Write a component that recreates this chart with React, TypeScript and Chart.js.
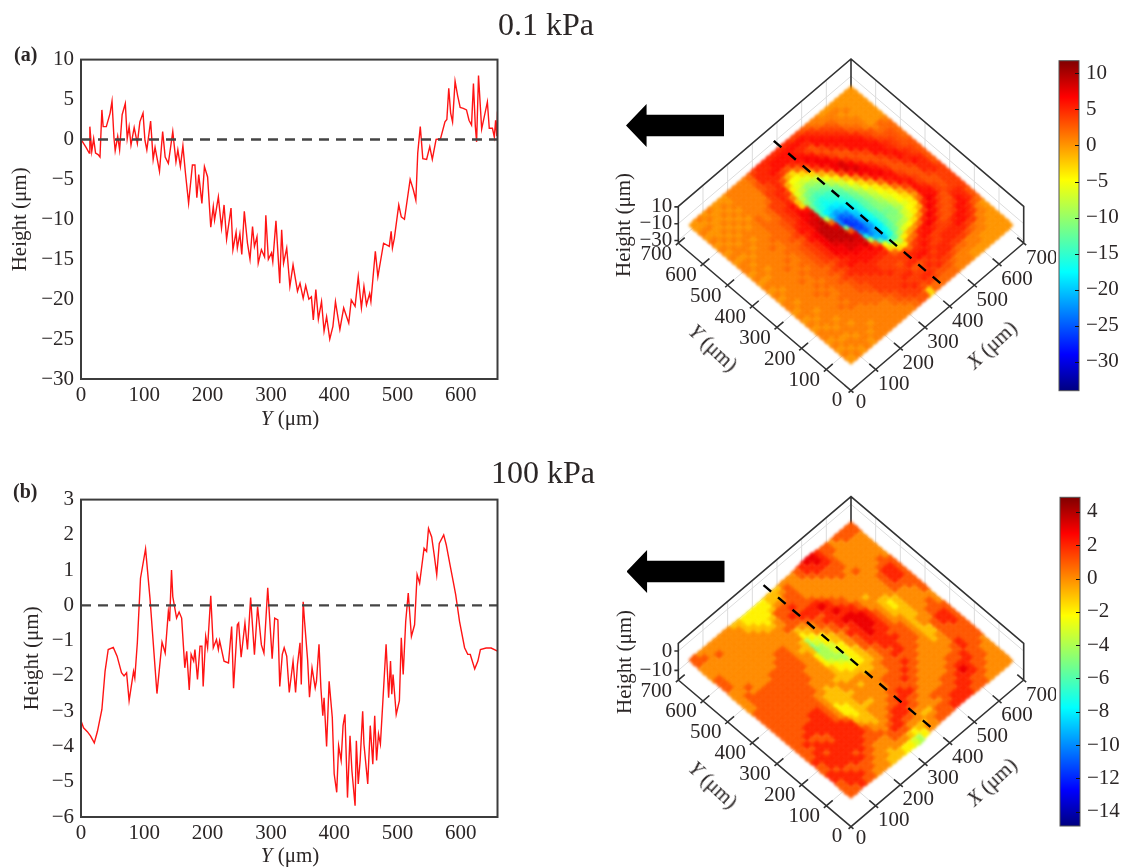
import React, { useEffect, useRef } from "react";
import { Chart, registerables } from "chart.js";

Chart.register(...registerables);

const SERIF = "'Liberation Serif', 'Times New Roman', serif";
const INK = "#2b2626";

const profileAY = [0,4,8,13,14,17,20,23,27,30,33,35,40,46,49,52,54,58,61,65,70,73,76,79,84,89,93,98,101,104,110,114,117,124,129,133,138,145,150,153,157,161,165,170,176,180,183,186,191,195,200,205,209,211,217,222,226,230,237,240,245,247,251,254,258,263,267,271,274,278,280,285,290,292,296,301,303,308,314,317,320,325,330,335,342,346,351,355,360,364,367,371,375,380,384,388,393,398,402,409,415,423,427,433,438,443,447,451,456,458,465,469,478,487,490,492,495,502,506,511,520,525,529,532,536,540,546,551,555,561,568,575,578,581,584,587,591,595,599,604,609,613,617,620,623,625,628,633,642,645,650,653,655,657,658];
const profileAH = [0,-0.5,-1,-1.7,1.6,-1.5,0.1,-1.7,-1.9,-2.2,3.7,1.6,1.6,3.3,4.8,0.3,-1.4,0.4,-1.3,3.1,4.5,0.1,1.6,-0.7,1.5,-0.5,2.2,3.3,-0.1,-1.3,2.3,-2.5,-1,-4,1,-2.2,-3,1,-2.8,-1.3,-3.4,-0.8,-4.2,-8,-3.2,-3.2,-7.3,-4.4,-8,-3.4,-4.7,-11,-8.4,-10.1,-7.2,-11.1,-8.2,-12.5,-8.6,-13.8,-11.6,-13.6,-11.8,-14.4,-9,-13,-15,-10.9,-13.4,-12.2,-15.5,-13.8,-14.7,-9.5,-15,-14.2,-15.3,-10.2,-18,-11.3,-15.5,-13.6,-18.4,-15.7,-19,-18,-19.9,-18.3,-20,-19.7,-22.6,-18.8,-22.5,-20.3,-24,-22.2,-25,-23.4,-20.3,-23.8,-21.1,-23,-20.1,-20.9,-17.2,-21.1,-18.4,-20.7,-19.3,-20.3,-14,-17.2,-13,-13.4,-11.5,-13.6,-12.4,-8.2,-9.7,-10,-5,-6.3,-7.6,-1.7,1.6,-2.4,-2.5,-0.9,-2.5,0,0.1,2.2,2.5,6.4,3.3,2.2,7.3,5.5,4,3.9,3.7,2.4,1.8,7,1.6,-0.3,8,1.3,4.7,1.4,1.4,0.3,2.4,0.4,3.5];
const profileBY = [0,4,10,15,21,26,33,38,43,51,57,64,68,72,76,83,85,89,94,102,109,120,128,133,138,140,143,145,151,155,159,164,167,171,174,178,180,184,188,191,193,197,200,205,209,214,217,219,226,233,238,241,247,249,253,259,263,268,274,279,285,289,295,302,306,311,314,318,321,325,329,335,339,342,346,348,351,353,358,361,365,370,372,376,379,382,384,388,392,397,400,404,407,411,414,417,421,425,428,433,435,438,441,445,447,453,457,461,464,467,470,473,476,482,486,489,491,493,498,503,506,509,513,517,522,527,531,535,542,546,549,554,558,562,566,573,577,583,588,592,598,606,611,615,622,627,631,640,648,658];
const profileBH = [-3.27,-3.47,-3.58,-3.7,-3.9,-3.57,-2.95,-1.87,-1.25,-1.19,-1.44,-1.91,-2,-1.91,-2.7,-1.87,-2.06,-1.06,0.77,1.6,0.2,-2.5,-1.04,-1.35,-0.17,-0.45,1,0.25,-0.36,-0.19,-0.36,-1.77,-1.3,-2.4,-1.39,-1.58,-1.25,-2.1,-1.16,-1.16,-2.3,-0.88,-1.2,0.27,-1.2,-0.97,-1.25,-1,-1.58,-1.63,-0.6,-2.35,-0.55,-0.5,-1.47,-0.5,-1.25,0.22,-1.4,-0.03,-1.12,-1.35,0.5,-1.51,-0.36,-0.41,-2.3,-1.39,-1.2,-1.44,-2.47,-1.58,-2.47,-1.67,-1.06,-2.24,0.1,-0.41,-1.54,-2.6,-1.77,-2.34,-2.15,-1.1,-2.34,-3.13,-2.62,-4,-2.15,-3.18,-4.78,-5.3,-3.98,-4.4,-3.41,-3.09,-5.45,-3.7,-4.69,-5.68,-3.84,-5.06,-4.4,-3,-3.93,-5.06,-3.41,-4.5,-3.13,-4.4,-3.65,-3.93,-3,-1.1,-2.62,-1.58,-2.52,-1.96,-3.09,-2.7,-0.92,-1.96,-0.45,0.35,-0.88,-0.55,0.87,0.63,1.62,1.53,2.18,1.94,1.43,0.87,1.76,2,1.72,1.15,0.68,0.3,-0.45,-1.2,-1.39,-1.39,-1.8,-1.58,-1.25,-1.21,-1.21,-1.3];

// Height (um); rows are X, columns are Y.
const surfaceA = [
[0,1,0,1,0,1,1,0,1,0,1,0,1,1,0,1,0,1,0,1,0,1,1,0,1,0,1,0,1,0,1,0,0],
[1,0,1,0,1,1,0,1,0,1,1,1,0,1,1,0,1,1,0,1,1,0,1,0,1,1,0,1,0,0,1,0,1],
[0,1,1,0,1,0,1,1,1,0,1,1,1,1,1,1,1,1,1,0,1,1,0,1,1,0,1,0,1,0,0,1,0],
[1,1,0,1,1,1,0,1,1,1,1,1,1,1,1,1,1,1,1,1,1,1,1,0,1,1,0,1,0,1,0,0,1],
[0,1,1,1,0,1,1,1,1,1,1,2,1,1,2,1,1,2,1,1,1,1,1,1,0,1,1,0,1,0,1,0,0],
[1,0,1,1,1,1,1,2,1,1,2,1,2,1,1,2,1,1,2,1,1,2,1,1,1,1,0,1,0,1,0,1,0],
[1,1,0,1,1,1,2,1,2,1,1,2,1,2,2,1,2,1,1,2,1,1,2,1,1,1,1,0,1,0,1,0,0],
[1,1,1,1,1,1,2,2,2,2,2,2,2,2,2,2,2,2,2,2,2,2,2,2,2,2,2,1,1,1,1,1,1],
[1,1,1,1,1,2,2,2,2,2,3,2,3,2,3,3,3,3,3,2,3,2,2,2,2,1,1,1,1,1,1,1,1],
[1,1,1,1,2,2,2,3,3,3,4,3,4,3,4,4,4,4,4,3,4,3,3,3,2,2,2,1,1,1,1,1,1],
[1,1,1,1,2,2,3,3,4,4,5,4,5,4,5,5,5,5,6,5,6,5,4,4,4,4,4,2,1,1,1,1,1],
[1,1,2,2,3,4,4,4,4,5,5,6,5,6,7,7,7,7,7,6,6,6,5,5,5,4,4,4,4,3,3,2,2],
[1,2,3,3,4,4,4,4,5,5,5,6,6,7,7,8,9,9,9,8,8,7,7,6,6,5,5,5,4,4,5,5,4],
[2,3,4,4,4,4,4,5,5,5,6,6,7,8,8,9,9,9,9,9,8,8,6,-3,-2,1,4,5,5,5,5,5,5],
[3,4,4,5,4,4,5,4,4,5,6,6,7,8,9,9,9,8,2,-8,-14,-13,-12,-10,-8,-6,-4,-1,3,5,6,5,5],
[3,4,5,4,5,4,4,4,4,5,6,7,8,8,8,3,-12,-22,-22,-20,-18,-16,-15,-13,-11,-8,-6,-5,-1,4,6,6,5],
[-3,3,4,4,5,4,3,4,4,5,6,2,-8,-16,-22,-25,-27,-27,-25,-22,-19,-17,-16,-14,-12,-10,-7,-5,-3,3,6,6,5],
[2,4,5,4,3,5,4,4,2,-3,-5,-14,-20,-23,-25,-26,-26,-25,-23,-20,-18,-16,-15,-13,-11,-9,-6,-3,2,5,6,6,5],
[2,4,5,4,3,5,5,4,-3,-6,-14,-20,-21,-21,-22,-22,-21,-20,-19,-18,-16,-15,-14,-12,-10,-7,-3,2,5,6,6,6,5],
[2,3,4,5,4,6,5,2,-4,-8,-13,-16,-17,-18,-18,-17,-17,-16,-16,-15,-14,-13,-11,-8,-5,-1,4,6,7,6,5,6,5],
[2,3,5,4,5,6,5,4,1,-4,-9,-12,-13,-14,-14,-14,-13,-13,-13,-12,-11,-9,-7,-4,0,5,7,7,6,4,5,6,4],
[2,3,4,5,4,5,6,5,2,-1,-6,-9,-11,-11,-12,-11,-11,-11,-10,-9,-7,-5,-2,4,7,7,7,5,3,3,5,6,4],
[1,2,4,5,5,4,5,6,5,0,-5,-8,-10,-11,-11,-10,-9,-8,-7,-5,-3,1,6,8,8,6,4,3,4,6,6,5,3],
[1,1,3,5,5,4,4,6,6,2,-3,-6,-7,-9,-8,-7,-6,-5,-4,-1,4,7,8,7,5,3,3,5,6,6,5,4,2],
[1,1,2,4,5,5,4,5,7,5,0,-4,-5,-6,-5,-5,-4,-2,2,6,7,7,6,4,3,3,5,6,6,5,4,2,1],
[0,1,2,4,5,5,4,4,6,7,4,-1,-4,-4,-3,-1,2,5,6,7,6,5,3,3,4,6,6,6,5,4,3,1,1],
[0,1,1,4,5,5,4,3,4,6,7,5,2,0,2,4,6,6,6,5,4,3,3,4,6,6,6,5,4,3,2,1,0],
[0,1,1,3,5,6,5,3,3,4,6,7,6,6,6,6,5,4,3,3,3,4,6,6,6,6,5,3,2,1,1,1,0],
[0,0,1,2,4,6,6,4,3,3,4,6,6,5,4,4,3,3,3,4,5,6,6,6,5,4,3,2,1,1,0,1,0],
[0,0,1,1,4,5,6,6,4,3,3,4,4,3,3,3,3,4,5,6,6,5,5,4,3,3,1,1,1,0,1,0,0],
[0,0,0,1,1,4,5,6,6,5,4,3,3,3,4,5,5,6,5,5,4,4,4,3,2,1,0,0,0,0,0,0,0],
[0,0,0,0,1,1,3,5,5,5,4,4,4,4,5,5,5,5,4,4,3,3,3,3,2,2,0,0,0,0,0,0,0],
[0,0,0,0,0,0,2,3,3,4,4,4,4,4,4,3,3,3,3,3,3,2,2,2,2,1,0,0,0,0,0,0,0],
];
const surfaceB = [
[1,1,1,2,2,1,1,2,1,1,1,1,1,1,1,1,1,1,1,1,0,0,0,0,0,1,1,1,0,0,0,1,1],
[1,2,2,2,1,2,2,2,2,1,2,1,1,1,1,1,1,1,1,1,1,1,1,0,0,0,0,0,0,0,0,1,0],
[2,2,2,1,2,2,2,1,2,2,1,2,1,1,1,1,1,1,1,1,1,1,0,1,0,0,0,0,0,0,0,0,0],
[1,2,1,1,2,2,2,2,2,1,1,2,2,1,1,1,1,1,1,1,1,1,0,0,0,0,0,0,0,0,1,0,0],
[1,1,1,2,2,2,2,2,1,1,2,2,2,1,1,1,1,1,1,1,1,1,0,0,0,0,0,0,0,0,0,0,0],
[0,1,1,2,1,2,2,2,2,2,2,2,2,2,1,1,1,1,1,1,1,1,0,0,0,0,0,0,0,0,0,0,0],
[0,0,1,1,2,2,2,2,2,2,2,2,2,2,1,1,1,1,1,1,1,1,1,0,0,0,0,0,0,0,0,0,0],
[0,0,0,1,1,2,2,2,2,2,1,1,1,1,1,1,1,1,1,1,1,1,1,0,0,0,0,0,0,0,0,0,0],
[-1,0,0,0,1,1,2,2,2,1,0,0,0,0,0,0,1,1,1,1,1,1,1,1,0,0,0,0,0,0,0,0,-1],
[-1,-1,0,0,1,1,1,0,-1,-1,-2,-2,-2,-1,-1,0,0,0,1,1,1,1,1,1,1,0,0,0,0,0,-1,-1,-1],
[-1,0,0,0,1,0,0,-1,-1,-2,-2,-2,-1,-1,-1,-1,0,0,0,0,1,1,1,1,1,0,0,0,0,-1,-1,-2,-2],
[-2,0,1,1,0,0,-1,-1,-1,-1,-1,-1,-1,-1,-1,0,0,0,0,0,0,0,0,0,0,0,0,0,-1,-1,-2,-2,-2],
[-2,0,1,2,1,0,0,0,0,-1,0,0,-1,0,0,-1,0,0,0,0,0,0,-1,0,0,0,0,0,-1,-2,-2,-2,-2],
[-3,-1,1,2,2,1,0,0,0,-1,0,0,0,0,-1,-1,-1,-1,-2,-2,-2,-1,-1,-1,0,0,1,0,0,-1,-2,-2,-2],
[-4,-2,0,1,2,2,1,0,0,0,0,0,-1,0,-1,-1,-2,-2,-3,-4,-4,-5,-5,-4,-2,-1,1,1,1,1,-1,-2,-2],
[-2,-1,0,1,2,2,1,1,0,0,0,0,0,0,-1,-2,-2,-3,-4,-4,-4,-4,-3,-2,-1,0,1,2,1,1,0,-1,-1],
[0,-1,0,0,1,2,2,1,1,0,0,0,0,-1,-1,-2,-3,-4,-4,-3,-3,-2,-2,0,0,1,2,1,2,1,0,-1,-1],
[0,0,-1,0,1,1,2,2,1,1,1,0,0,-1,-1,-2,-2,-2,-2,-2,-1,-1,0,1,1,2,2,1,1,1,1,0,-1],
[1,0,-1,0,0,1,2,1,1,1,1,0,0,0,-1,-1,-1,-1,0,0,0,1,1,2,1,2,2,1,1,1,1,1,0],
[1,1,0,0,0,0,1,1,2,1,1,1,1,0,0,0,1,1,1,2,1,2,2,2,2,3,2,1,0,0,0,0,0],
[1,1,0,1,0,0,0,1,1,2,1,1,1,1,1,1,2,2,2,2,2,3,2,3,2,2,1,0,0,0,0,0,0],
[2,1,1,1,0,0,0,0,1,1,2,1,2,1,2,2,2,3,3,3,3,3,2,2,1,1,0,0,0,0,0,1,1],
[2,2,1,1,0,0,0,0,0,1,1,1,2,2,2,2,2,2,3,3,3,2,2,1,1,0,0,0,0,0,1,2,2],
[2,2,1,1,1,0,0,0,0,0,1,1,1,1,2,1,2,2,2,2,2,1,1,0,0,0,0,0,0,1,2,2,3],
[2,2,2,1,1,0,0,0,0,0,0,1,1,1,1,1,1,1,1,1,0,0,0,0,0,0,0,0,1,1,2,3,3],
[1,2,2,2,1,1,0,0,0,0,0,0,1,1,1,1,0,0,0,0,0,0,-1,0,0,0,0,1,1,1,2,2,2],
[1,1,2,3,2,1,1,0,0,0,0,0,0,0,0,0,0,-1,-1,-1,-1,0,0,0,0,0,0,0,1,1,1,1,1],
[1,1,2,2,2,1,1,0,0,0,-1,-1,-1,-1,-1,-1,-1,-1,-2,-2,-1,0,0,0,0,0,1,0,0,0,0,1,1],
[0,1,1,1,2,2,1,1,0,0,0,-1,-1,0,0,-1,-1,-1,-1,-1,0,0,0,0,0,0,0,0,0,0,0,0,0],
[0,0,1,1,1,1,2,2,1,1,1,1,1,0,0,0,0,0,0,0,1,1,1,1,0,0,0,0,0,0,0,0,1],
[0,0,0,1,1,1,1,1,1,1,1,2,2,1,1,0,0,0,0,0,1,2,2,2,1,0,0,0,0,0,0,1,1],
[0,0,0,0,0,1,1,1,1,1,2,2,2,1,1,1,0,0,0,1,1,2,2,2,1,1,0,0,0,0,0,1,1],
[0,0,0,0,0,0,1,1,1,1,1,1,1,1,0,0,0,1,1,1,1,1,1,1,1,0,0,0,0,0,0,1,1],
];

const xyTicks = [0, 100, 200, 300, 400, 500, 600, 700];
const zTicksA = [10, -10, -30];
const zTicksB = [0, -10];
const jetStops: [number, number[]][] = [[0,[0,0,128]],[0.11,[0,0,255]],[0.36,[0,255,255]],[0.5,[127,255,127]],[0.64,[255,255,0]],[0.89,[255,0,0]],[1,[128,0,0]]];

const minus = (v: number | string) => String(v).replace("-", "\u2212");

function jet(t: number) {
  const c = Math.max(0, Math.min(1, t));
  for (let k = 1; k < jetStops.length; k++) {
    const [t1, a1] = jetStops[k];
    const [t0, a0] = jetStops[k - 1];
    if (c <= t1) {
      const f = (c - t0) / (t1 - t0);
      return `rgb(${a0.map((a, n) => Math.round(a + (a1[n] - a) * f)).join(",")})`;
    }
  }
  return "rgb(128,0,0)";
}

const frameBox = {
  id: "frameBox",
  afterDatasetsDraw(chart: any) {
    const { ctx, chartArea: a } = chart;
    ctx.save();
    ctx.strokeStyle = "#3c3c3c";
    ctx.lineWidth = 2;
    ctx.strokeRect(a.left, a.top, a.right - a.left, a.bottom - a.top);
    ctx.restore();
  },
};

function makeProfile(canvas: HTMLCanvasElement, ys: number[], hs: number[], yMin: number, yMax: number, step: number, plotTop: number, plotBottom: number, titlePad: number) {
  const H = canvas.height;
  const fontT = { family: SERIF, size: 21 };
  return new Chart(canvas, {
    type: "scatter",
    data: {
      datasets: [
        { label: "zero", data: [{ x: 0, y: 0 }, { x: 658, y: 0 }], showLine: true, pointRadius: 0, borderColor: "#444444", borderWidth: 2.4, borderDash: [10, 7] },
        { label: "profile", data: ys.map((x, k) => ({ x, y: hs[k] })), showLine: true, pointRadius: 0, borderColor: "#ff1414", borderWidth: 1.4 },
      ],
    },
    plugins: [frameBox],
    options: {
      animation: false, responsive: false,
      layout: { autoPadding: false, padding: { left: 0, right: canvas.width - 497.5, top: plotTop, bottom: 0 } },
      plugins: { legend: { display: false }, tooltip: { enabled: false } },
      scales: {
        x: {
          type: "linear", min: 0, max: 658,
          grid: { display: false, drawTicks: false }, border: { display: false },
          ticks: { stepSize: 100, includeBounds: false, maxRotation: 0, color: INK, padding: 4, font: fontT },
          afterFit: (s: any) => { s.height = H - plotBottom; },
        },
        y: {
          type: "linear", min: yMin, max: yMax,
          grid: { display: false, drawTicks: false }, border: { display: false },
          title: { display: true, text: "Height (\u03bcm)", color: INK, font: fontT, padding: { top: titlePad, bottom: 0 } },
          ticks: { stepSize: step, color: INK, padding: 7, font: fontT, callback: (v: any) => minus(v) },
          afterFit: (s: any) => { s.width = 81; },
        },
      },
    } as any,
  });
}

function makeColorbar(canvas: HTMLCanvasElement, lo: number, hi: number, step: number, plotTop: number, plotH: number) {
  const stripe = {
    id: "stripeTicks",
    afterDatasetsDraw(chart: any) {
      const { ctx, chartArea: a, scales } = chart;
      ctx.save();
      ctx.strokeStyle = "#555";
      ctx.lineWidth = 1;
      ctx.strokeRect(a.left, a.top, a.right - a.left, a.bottom - a.top);
      ctx.strokeStyle = "#111";
      scales.y.ticks.forEach((t: any) => {
        const p = Math.round(scales.y.getPixelForValue(t.value)) + 0.5;
        ctx.beginPath(); ctx.moveTo(a.right - 4, p); ctx.lineTo(a.right, p); ctx.stroke();
      });
      ctx.restore();
    },
  };
  return new Chart(canvas, {
    type: "bar",
    data: {
      labels: ["Height"],
      datasets: [{
        data: [[lo, hi]],
        barPercentage: 1, categoryPercentage: 1, borderWidth: 0,
        backgroundColor: (c: any) => {
          const a = c.chart.chartArea;
          if (!a) return "#f80";
          const g = c.chart.ctx.createLinearGradient(0, a.bottom, 0, a.top);
          jetStops.forEach(([t, rgb]) => g.addColorStop(t, `rgb(${rgb.join(",")})`));
          return g;
        },
      }],
    },
    plugins: [stripe],
    options: {
      animation: false, responsive: false,
      layout: { autoPadding: false, padding: { left: 3, right: 0, top: plotTop, bottom: canvas.height - plotTop - plotH } },
      plugins: { legend: { display: false }, tooltip: { enabled: false } },
      scales: {
        x: { display: false },
        y: {
          position: "right", type: "linear", min: lo, max: hi,
          grid: { display: false, drawTicks: false }, border: { display: false },
          ticks: { stepSize: step, includeBounds: false, color: INK, padding: 7, font: { family: SERIF, size: 21 }, callback: (v: any) => minus(v) },
          afterFit: (s: any) => { s.width = canvas.width - 23; },
        },
      },
    } as any,
  });
}

type PanelCfg = { originY: number; slopeY: number; k: number; zMin: number; zMax: number; relief: number; vLo: number; vHi: number; zTicks: number[]; grid: number[][]; cutX: number };

function makeSurface(canvas: HTMLCanvasElement, left: number, top: number, cfg: PanelCfg) {
  const ORX = 851, SX = 172.7 / 700;
  const px = (X: number, Y: number) => ORX + (X - Y) * SX;
  const py = (X: number, Y: number, Z: number) => cfg.originY - (X + Y) * cfg.slopeY - (Z - cfg.zMin) * cfg.k;
  const pt = (X: number, Y: number, Z: number) => ({ x: px(X, Y), y: py(X, Y, Z) });
  const gap = { x: 0, y: null as any };

  const n = cfg.grid.length;
  const cells: any[] = [];
  for (let sum = 2 * n - 2; sum >= 0; sum--) {
    for (let i = 0; i < n; i++) {
      const j = sum - i;
      if (j < 0 || j >= n) continue;
      const X = ((i + 0.5) / n) * 653, Y = ((j + 0.5) / n) * 653, v = cfg.grid[i][j];
      cells.push({ x: px(X, Y), y: py(X, Y, 0) - v * cfg.k * cfg.relief, v });
    }
  }

  const wallGrid: any[] = [];
  xyTicks.slice(1, -1).forEach((t) => {
    wallGrid.push(pt(t, 700, cfg.zMin), pt(t, 700, cfg.zMax), gap);
    wallGrid.push(pt(700, t, cfg.zMin), pt(700, t, cfg.zMax), gap);
    wallGrid.push(pt(t, 0, cfg.zMin), pt(t, 700, cfg.zMin), gap);
    wallGrid.push(pt(0, t, cfg.zMin), pt(700, t, cfg.zMin), gap);
  });
  cfg.zTicks.forEach((z) => {
    wallGrid.push(pt(0, 700, z), pt(700, 700, z), pt(700, 0, z), gap);
  });

  const frame: any[] = [
    pt(0, 700, cfg.zMin), pt(0, 0, cfg.zMin), pt(700, 0, cfg.zMin), pt(700, 0, cfg.zMax), pt(700, 700, cfg.zMax), pt(0, 700, cfg.zMax), pt(0, 700, cfg.zMin), gap,
    pt(700, 700, cfg.zMax), pt(700, 700, cfg.zMin), gap,
  ];
  xyTicks.forEach((t) => {
    frame.push(pt(t, -10, cfg.zMin), pt(t, 26, cfg.zMin), gap);
    frame.push(pt(-10, t, cfg.zMin), pt(26, t, cfg.zMin), gap);
  });
  cfg.zTicks.forEach((z) => {
    frame.push(pt(0, 700, z), pt(-8, 708, z), gap);
  });

  const decor = {
    id: "surfaceDecor",
    beforeDatasetDraw(chart: any, args: any) {
      if (chart.data.datasets[args.index].label === "surface") {
        chart.ctx.save();
        chart.ctx.filter = "blur(1.8px)";
      }
    },
    afterDatasetDraw(chart: any, args: any) {
      if (chart.data.datasets[args.index].label === "surface") chart.ctx.restore();
    },
    afterDraw(chart: any) {
      const { ctx, scales } = chart;
      ctx.save();
      ctx.fillStyle = INK;
      ctx.font = `21px ${SERIF}`;
      ctx.textBaseline = "middle";
      ctx.textAlign = "center";
      const put = (s: string, wx: number, wy: number) => ctx.fillText(s, scales.x.getPixelForValue(wx), scales.y.getPixelForValue(wy));
      xyTicks.forEach((t) => {
        const ax = pt(t, 0, cfg.zMin), ay = pt(0, t, cfg.zMin);
        const dxX = t === 0 ? 10 : 18, dyX = t === 0 ? 12 : 15;
        const dxY = t === 0 ? -14 : -22, dyY = t === 0 ? 10 : 11;
        put(String(t), ax.x + dxX, ax.y + dyX);
        put(String(t), ay.x + dxY, ay.y + dyY);
      });
      ctx.textAlign = "right";
      cfg.zTicks.forEach((z) => {
        const a = pt(0, 700, z);
        put(minus(z), a.x - 6, a.y);
      });
      ctx.restore();
    },
  };

  return new Chart(canvas, {
    type: "scatter",
    data: {
      datasets: [
        { label: "cut", order: 0, data: [pt(cfg.cutX, 8, 0), pt(cfg.cutX, 688, 0)], showLine: true, pointRadius: 0, borderColor: "#000", borderWidth: 2.4, borderDash: [10, 9] },
        { label: "frame", order: 2, data: frame, showLine: true, spanGaps: false, pointRadius: 0, borderColor: "#333", borderWidth: 1.6 },
        { label: "surface", order: 1, data: cells, showLine: false, pointStyle: "rectRot", pointRadius: 6.4, pointBorderWidth: 0, pointBackgroundColor: (c: any) => jet((c.raw.v - cfg.vLo) / (cfg.vHi - cfg.vLo)) },
        { label: "grid", order: 3, data: wallGrid, showLine: true, spanGaps: false, pointRadius: 0, borderColor: "#dcdcdc", borderWidth: 1 },
      ],
    },
    plugins: [decor],
    options: {
      animation: false, responsive: false,
      layout: { autoPadding: false, padding: 0 },
      plugins: { legend: { display: false }, tooltip: { enabled: false } },
      scales: {
        x: { type: "linear", display: false, min: left, max: left + canvas.width },
        y: { type: "linear", display: false, min: top, max: top + canvas.height, reverse: true },
      },
    } as any,
  });
}

const abs = (o: React.CSSProperties): React.CSSProperties => ({ position: "absolute", fontFamily: SERIF, color: INK, whiteSpace: "nowrap", lineHeight: 1, ...o });

function Arrow({ left, top }: { left: number; top: number }) {
  return <div style={{ position: "absolute", left, top, width: 98, height: 43, background: "#000", clipPath: "polygon(0 50%, 21% 0, 21% 25%, 100% 25%, 100% 75%, 21% 75%, 21% 100%)" }} />;
}
function Lab({ axis, x, y, deg }: { axis: string; x: number; y: number; deg: number }) {
  return <div style={abs({ left: x, top: y, fontSize: 21, transform: `translate(-50%,-50%) rotate(${deg}deg)` })}><i>{axis}</i> ({"\u03bc"}m)</div>;
}

export default function App() {
  const p1 = useRef<HTMLCanvasElement>(null), p2 = useRef<HTMLCanvasElement>(null);
  const s1 = useRef<HTMLCanvasElement>(null), s2 = useRef<HTMLCanvasElement>(null);
  const c1 = useRef<HTMLCanvasElement>(null), c2 = useRef<HTMLCanvasElement>(null);
  useEffect(() => {
    const charts = [
      makeProfile(p1.current!, profileAY, profileAH, -30, 10, 5, 19.5, 339, 8),
      makeProfile(p2.current!, profileBY, profileBH, -6, 3, 1, 17.7, 337, 20),
      makeSurface(s1.current!, 600, 45, { originY: 390.5, slopeY: 147.5 / 700, k: 0.84, zMin: -33, zMax: 10.5, relief: 0.15, vLo: -34, vHi: 11.75, zTicks: zTicksA, grid: surfaceA, cutX: 370 }),
      makeSurface(s2.current!, 600, 485, { originY: 826.7, slopeY: 146.7 / 700, k: 1.93, zMin: -15, zMax: 4, relief: 0.5, vLo: -14.86, vHi: 4.88, zTicks: zTicksB, grid: surfaceB, cutX: 330 }),
      makeColorbar(c1.current!, -34, 11.75, 5, 30.7, 330),
      makeColorbar(c2.current!, -14.86, 4.88, 2, 27.3, 328.7),
    ];
    return () => charts.forEach((c) => c.destroy());
  }, []);
  const cv = (left: number, top: number, width: number, height: number, ref: any) => (
    <canvas ref={ref} width={width} height={height} style={{ position: "absolute", left, top, width, height }} />
  );
  return (
    <div style={{ position: "absolute", left: 0, top: 0, width: 1124, height: 867, background: "#fff", overflow: "hidden" }}>
      {cv(0, 40, 510, 400, p1)}
      {cv(0, 480, 510, 387, p2)}
      {cv(600, 45, 456, 385, s1)}
      {cv(600, 485, 456, 382, s2)}
      {cv(1056, 30, 68, 390, c1)}
      {cv(1057, 470, 67, 387, c2)}
      <div style={abs({ left: 498, top: 8, fontSize: 32 })}>0.1 kPa</div>
      <div style={abs({ left: 491, top: 456, fontSize: 32 })}>100 kPa</div>
      <div style={abs({ left: 14, top: 44, fontSize: 20, fontWeight: "bold" })}>(a)</div>
      <div style={abs({ left: 13, top: 481, fontSize: 20, fontWeight: "bold" })}>(b)</div>
      <Lab axis="Y" x={290} y={418} deg={0} />
      <Lab axis="Y" x={290} y={855} deg={0} />
      <Lab axis="Y" x={713} y={348} deg={43} />
      <Lab axis="X" x={992} y={345} deg={-43} />
      <Lab axis="Y" x={713} y={785} deg={43} />
      <Lab axis="X" x={992} y={782} deg={-43} />
      <div style={abs({ left: 623, top: 225, fontSize: 21, transform: "translate(-50%,-50%) rotate(-90deg)" })}>Height ({"\u03bc"}m)</div>
      <div style={abs({ left: 624, top: 662, fontSize: 21, transform: "translate(-50%,-50%) rotate(-90deg)" })}>Height ({"\u03bc"}m)</div>
      <Arrow left={626} top={104} />
      <Arrow left={626.5} top={550} />
    </div>
  );
}
